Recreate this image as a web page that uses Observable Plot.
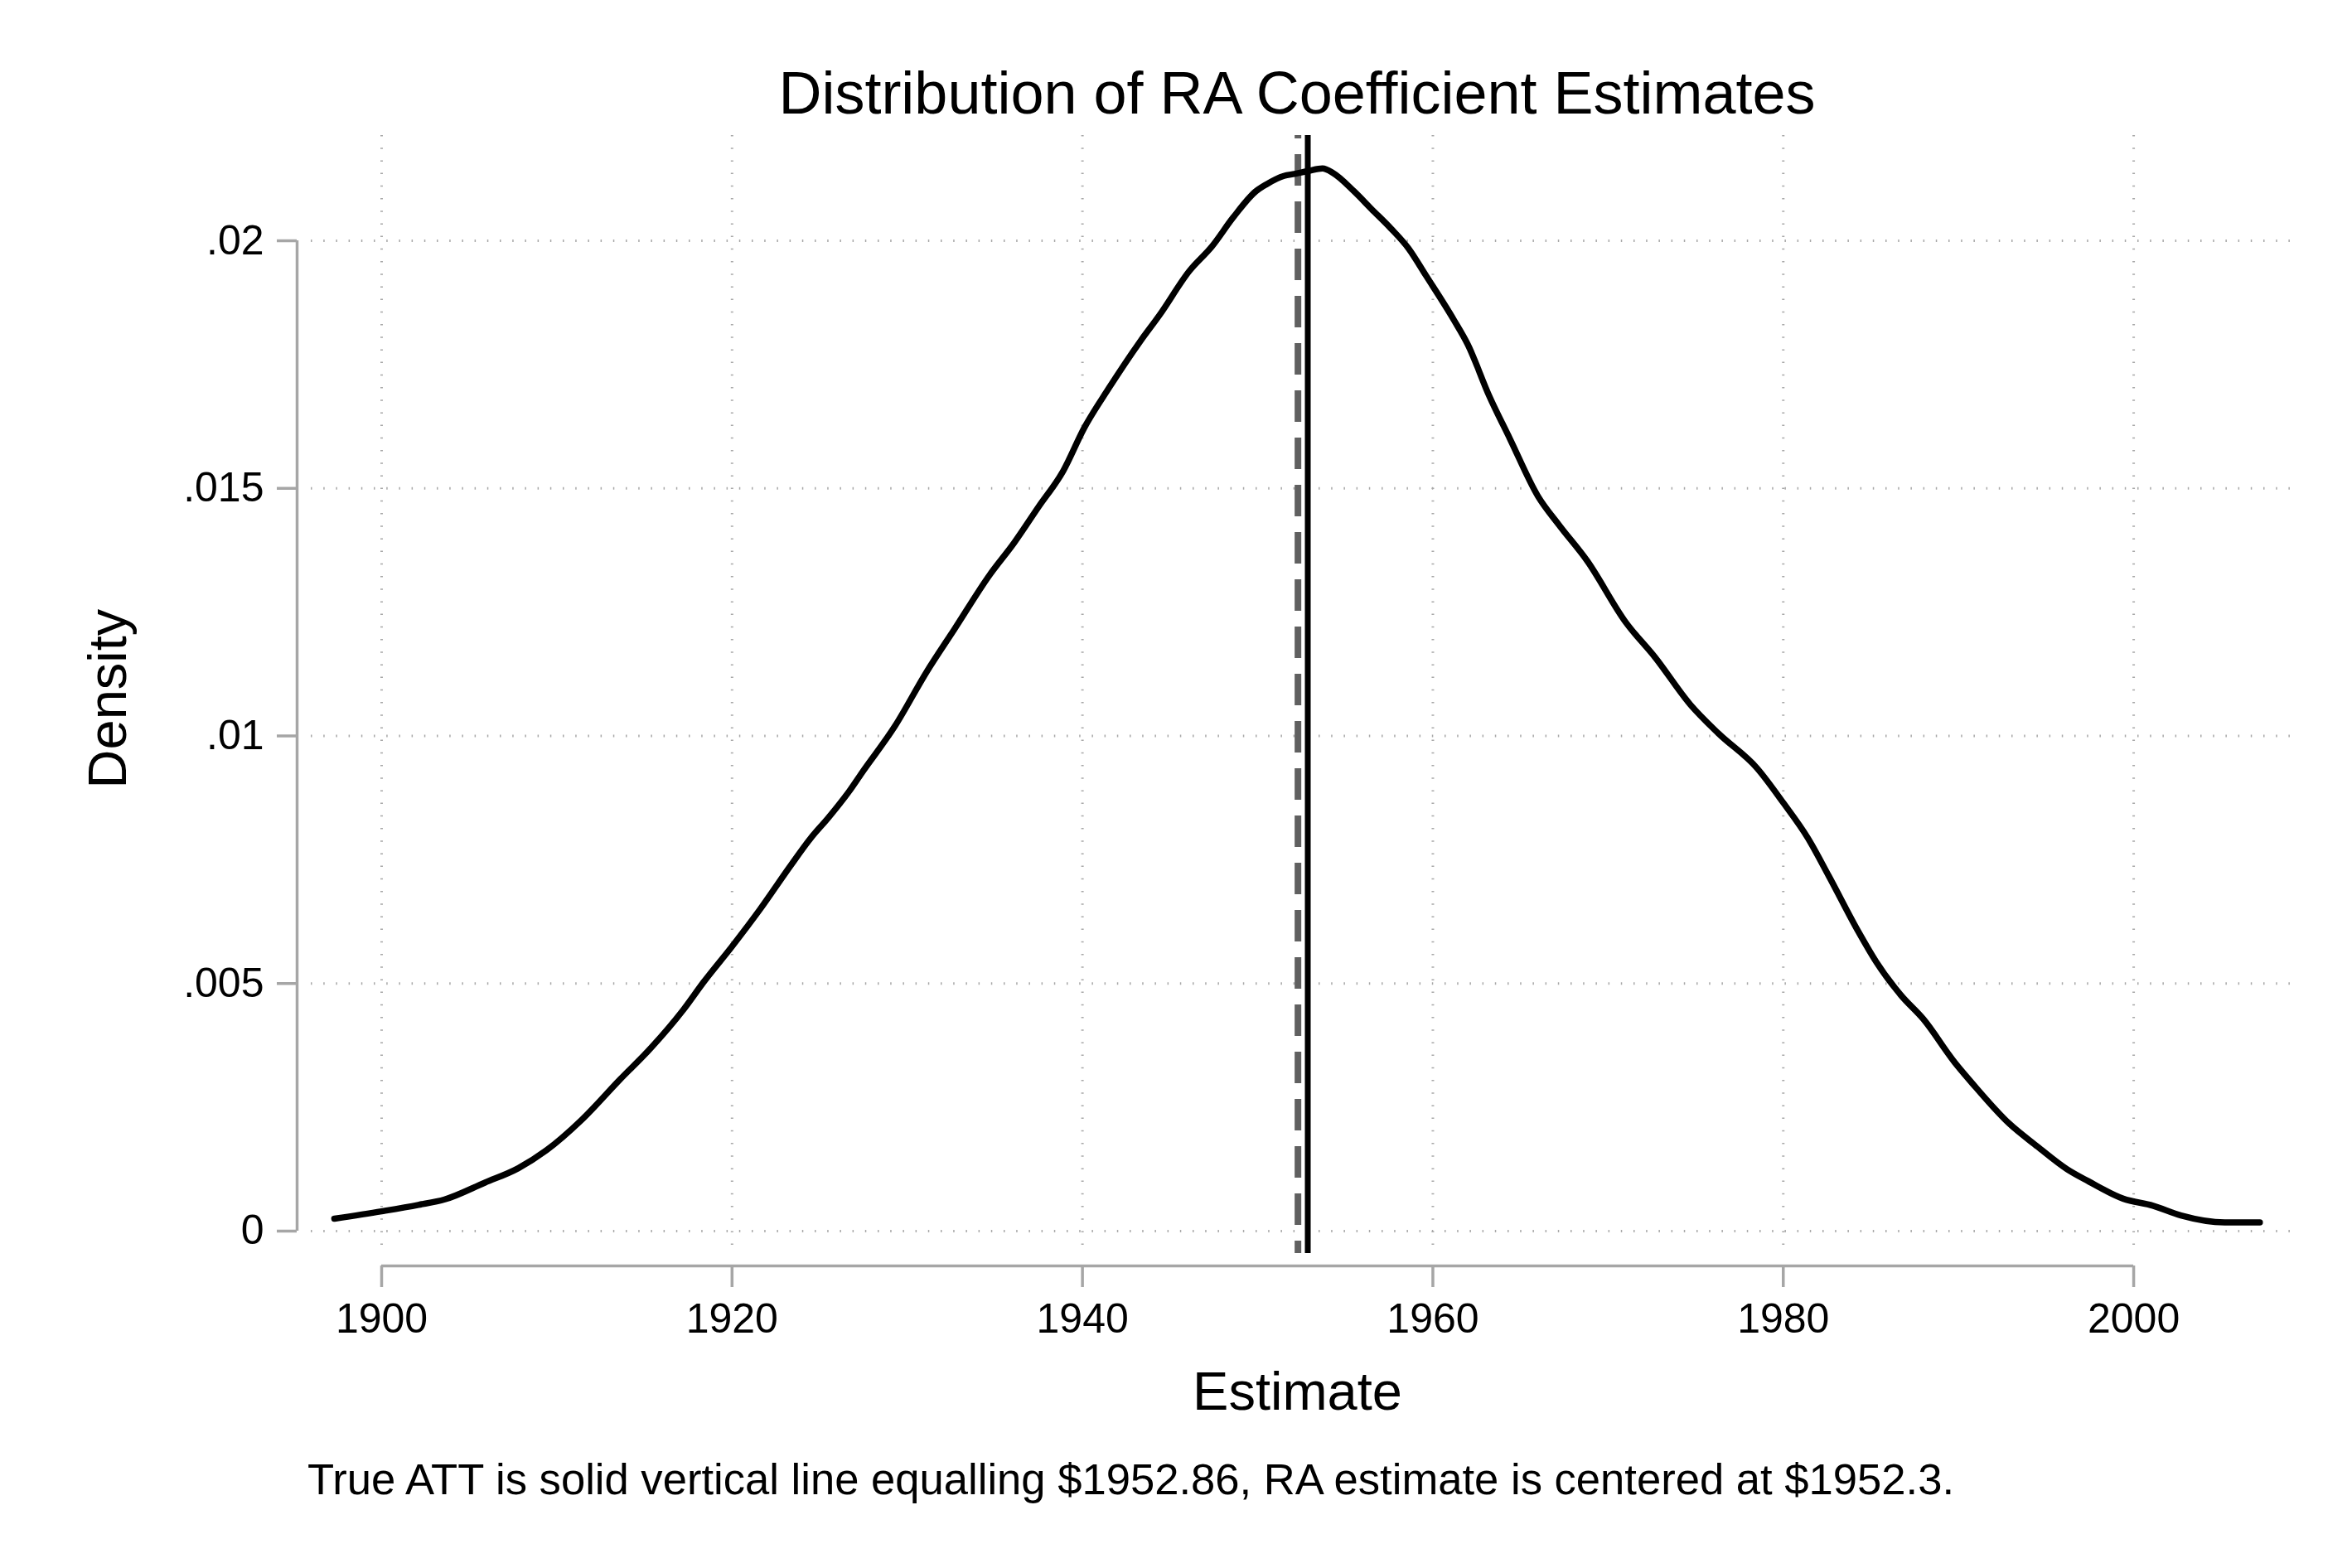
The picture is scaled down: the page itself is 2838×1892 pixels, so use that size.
<!DOCTYPE html>
<html>
<head>
<meta charset="utf-8">
<script src="https://cdn.jsdelivr.net/npm/d3@7"></script>
<script src="https://cdn.jsdelivr.net/npm/@observablehq/plot@0.6"></script>
<style>
  html, body { margin: 0; padding: 0; background: #ffffff; }
  body { width: 2838px; height: 1892px; overflow: hidden; font-family: "Liberation Sans", Arial, Helvetica, sans-serif; color: #000; }
  #title { position: relative; height: 163px; }
  #title span { position: absolute; top: 71px; left: 1565px; transform: translateX(-50%); white-space: nowrap; font-size: 72px; line-height: normal; }
  #chart svg { display: block; }
  #caption { position: relative; height: 152px; }
  #caption span { position: absolute; top: 14px; left: 371px; white-space: nowrap; font-size: 52.6px; line-height: normal; }
</style>
</head>
<body>
<div id="title"><span>Distribution of RA Coefficient Estimates</span></div>
<div id="chart"></div>
<div id="caption"><span>True ATT is solid vertical line equalling $1952.86, RA estimate is centered at $1952.3.</span></div>
<script>
// Kernel density curve
const estimate = [
  1897.3, 1900.0, 1902.1, 1903.6, 1905.9, 1907.8, 1909.4, 1911.4, 1913.6, 1915.4,
  1917.2, 1918.4, 1920.0, 1921.6, 1923.3, 1924.5, 1925.5, 1926.7, 1927.4, 1929.3,
  1931.1, 1932.7, 1934.7, 1936.1, 1937.5, 1938.9, 1940.1, 1941.5, 1943.3, 1944.4,
  1946.1, 1947.4, 1948.6, 1949.9, 1950.5, 1951.5, 1952.1, 1952.9, 1953.7, 1954.3,
  1955.5, 1956.5, 1957.6, 1958.6, 1959.6, 1961.2, 1962.0, 1963.2, 1964.4, 1966.0,
  1967.2, 1968.8, 1971.0, 1972.7, 1974.7, 1976.3, 1978.5, 1980.0, 1981.4, 1982.6,
  1984.3, 1985.3, 1986.7, 1988.0, 1989.8, 1990.8, 1992.9, 1994.5, 1996.2, 1997.4,
  1999.4, 2001.1, 2002.7, 2005.2, 2007.2
];
const density = [
  0.00025, 0.00040, 0.00053, 0.00064, 0.00098, 0.00127, 0.00163, 0.00224, 0.00306, 0.00371,
  0.00446, 0.00504, 0.00575, 0.00650, 0.00736, 0.00794, 0.00835, 0.00889, 0.00925, 0.01020,
  0.01129, 0.01216, 0.01325, 0.01390, 0.01463, 0.01535, 0.01622, 0.01702, 0.01797, 0.01850,
  0.01939, 0.01989, 0.02047, 0.02100, 0.02114, 0.02131, 0.02135, 0.02141, 0.02146, 0.02137,
  0.02100, 0.02064, 0.02025, 0.01985, 0.01930, 0.01840, 0.01790, 0.01688, 0.01600, 0.01484,
  0.01426, 0.01354, 0.01230, 0.01158, 0.01063, 0.01005, 0.00935, 0.00865, 0.00794, 0.00717,
  0.00604, 0.00544, 0.00477, 0.00428, 0.00340, 0.00298, 0.00217, 0.00171, 0.00125, 0.00101,
  0.000655, 0.000514, 0.000317, 0.000176, 0.000176
];

const xTicks = [1900, 1920, 1940, 1960, 1980, 2000];
const yTicks = [0, 0.005, 0.01, 0.015, 0.02];
const yTickLabels = ["0", ".005", ".01", ".015", ".02"];
const trueATT = 1952.86;
const raCenter = 1952.3;
const xDomain = [1895.98, 2009.22];
const yDomain = [-0.000452, 0.022126];

const rows = estimate.map((x, i) => ({estimate: x, density: density[i]}));

const axisGrey = "#a6a6a6";
const gridStyle = {stroke: "#a8a8a8", strokeOpacity: 1, strokeWidth: 3, strokeDasharray: "1.5,13.7"};

const chart = Plot.plot({
  width: 2838,
  height: 1577,
  marginTop: 0,
  marginBottom: 228,
  marginLeft: 375,
  marginRight: 69,
  style: {fontFamily: '"Liberation Sans", Arial, Helvetica, sans-serif', background: "#ffffff", color: "#000", overflow: "visible"},
  x: {domain: xDomain},
  y: {domain: yDomain},
  marks: [
    Plot.gridX(xTicks, gridStyle),
    Plot.gridY(yTicks, gridStyle),
    Plot.ruleY([yDomain[0]], {x1: xTicks[0], x2: xTicks[xTicks.length - 1], dy: 15, stroke: axisGrey, strokeWidth: 3.5}),
    Plot.ruleX([xDomain[0]], {y1: yTicks[0], y2: yTicks[yTicks.length - 1], dx: -17, stroke: axisGrey, strokeWidth: 3.5}),
    Plot.axisX(xTicks, {anchor: "bottom", tickSize: 26, tickPadding: 19, dy: 15, fontSize: 50, stroke: axisGrey, strokeWidth: 3.5, fill: "#000", label: null, tickFormat: d => String(d)}),
    Plot.axisY(yTicks, {anchor: "left", tickSize: 24, tickPadding: 16, dx: -17, fontSize: 50, stroke: axisGrey, strokeWidth: 3.5, fill: "#000", label: null, tickFormat: d => yTickLabels[yTicks.indexOf(d)]}),
    Plot.ruleX([raCenter], {stroke: "#606060", strokeWidth: 8, strokeDasharray: "38,19", strokeDashoffset: 34}),
    Plot.line(rows, {x: "estimate", y: "density", stroke: "#000", strokeWidth: 7.5, curve: "monotone-x", strokeLinejoin: "round"}),
    Plot.ruleX([trueATT], {stroke: "#000", strokeWidth: 7}),
    Plot.text(["Estimate"], {frameAnchor: "bottom", dx: -7, dy: 168, fontSize: 65, lineAnchor: "middle", textAnchor: "middle", fill: "#000"}),
    Plot.text(["Density"], {frameAnchor: "left", rotate: -90, dx: -244, dy: 5, fontSize: 65, lineAnchor: "middle", textAnchor: "middle", fill: "#000"})
  ]
});
document.getElementById("chart").appendChild(chart);
</script>
</body>
</html>
